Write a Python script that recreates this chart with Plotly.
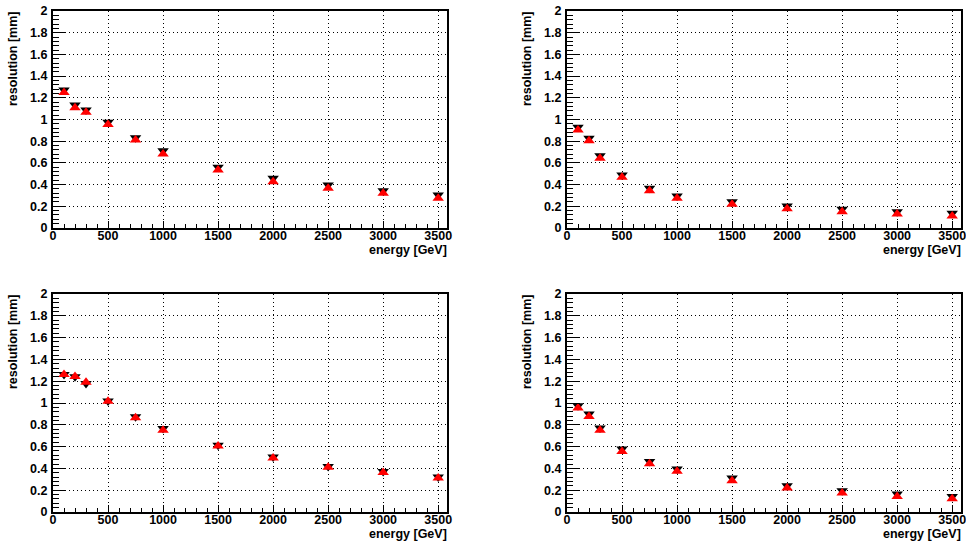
import plotly.graph_objects as go
from plotly.subplots import make_subplots

energy = [100, 200, 300, 500, 750, 1000, 1500, 2000, 2500, 3000, 3500]

# panel values: black triangle-down series, red triangle-up series
tl_black = [1.272, 1.134, 1.088, 0.974, 0.832, 0.713, 0.559, 0.458, 0.396, 0.344, 0.304]
tl_red   = [1.250, 1.109, 1.066, 0.955, 0.811, 0.682, 0.535, 0.427, 0.366, 0.320, 0.274]

tr_black = [0.928, 0.827, 0.667, 0.488, 0.366, 0.295, 0.242, 0.203, 0.172, 0.150, 0.135]
tr_red   = [0.903, 0.805, 0.642, 0.467, 0.344, 0.274, 0.218, 0.178, 0.150, 0.129, 0.110]

bl_black = [1.262, 1.240, 1.178, 1.018, 0.875, 0.765, 0.612, 0.505, 0.418, 0.372, 0.322]
bl_red   = [1.262, 1.244, 1.190, 1.015, 0.865, 0.750, 0.605, 0.495, 0.410, 0.362, 0.312]

br_black = [0.975, 0.899, 0.770, 0.578, 0.464, 0.394, 0.312, 0.241, 0.195, 0.165, 0.143]
br_red   = [0.954, 0.877, 0.749, 0.556, 0.443, 0.373, 0.287, 0.220, 0.174, 0.143, 0.122]

x_title = "energy [GeV]"
y_title = "resolution [mm]"

W, H = 966, 541
FONT = "Liberation Sans, Arial, sans-serif"
FS = 12.5

fig = make_subplots(rows=2, cols=2)

panels = [
    (1, 1, tl_black, tl_red),
    (1, 2, tr_black, tr_red),
    (2, 1, bl_black, bl_red),
    (2, 2, br_black, br_red),
]
for r, c, blk, red in panels:
    fig.add_trace(go.Scatter(x=energy, y=blk, mode="markers",
                             marker=dict(symbol="triangle-down", size=10, color="black",
                                         line=dict(width=0)),
                             showlegend=False), row=r, col=c)
    fig.add_trace(go.Scatter(x=energy, y=red, mode="markers",
                             marker=dict(symbol="triangle-up", size=10, color="red",
                                         line=dict(width=0)),
                             showlegend=False), row=r, col=c)

# pixel frames
xpix = {1: (53, 447), 2: (567, 961)}
ypix = {1: (11, 228), 2: (294, 512)}

axis_font = dict(family=FONT, size=FS, color="black", weight="bold")
for r in (1, 2):
    for c in (1, 2):
        x0, x1 = xpix[c]
        y0, y1 = ypix[r]
        fig.update_xaxes(domain=[x0 / W, x1 / W], range=[0, 3580], dtick=500, tick0=0,
                         automargin=False, ticklabelstandoff=-5, ticklabeloverflow="allow",
                         ticks="inside", ticklen=7, tickcolor="black", tickwidth=1,
                         minor=dict(dtick=100, ticks="inside", ticklen=4, tickcolor="black", showgrid=False),
                         showgrid=True, gridcolor="black", gridwidth=1, griddash="1px,3px",
                         showline=True, linecolor="black", linewidth=2, mirror=True,
                         zeroline=False, tickfont=axis_font, row=r, col=c)
        fig.update_yaxes(domain=[1 - y1 / H, 1 - y0 / H], range=[0, 2], dtick=0.2, tick0=0,
                         automargin=False, ticklabelstandoff=1, ticklabeloverflow="allow",
                         ticks="inside", ticklen=12, tickcolor="black", tickwidth=1,
                         minor=dict(dtick=0.04, ticks="inside", ticklen=6, tickcolor="black", showgrid=False),
                         showgrid=True, gridcolor="black", gridwidth=1, griddash="1px,3px",
                         showline=True, linecolor="black", linewidth=2, mirror=True,
                         zeroline=False, tickfont=axis_font, row=r, col=c)
        fig.add_annotation(text=y_title, textangle=-90, xref="paper", yref="paper",
                           x=(x0 - 40) / W, y=1 - (y0 - 1) / H, xanchor="center", yanchor="top",
                           showarrow=False,
                           font=dict(family=FONT, size=FS, color="black", weight="bold"))
        fig.add_annotation(text=x_title, xref="paper", yref="paper",
                           x=(x1 + 2) / W, y=1 - (y1 + 22) / H, xanchor="right", yanchor="middle",
                           showarrow=False,
                           font=dict(family=FONT, size=FS, color="black", weight="bold"))

fig.update_layout(width=W, height=H, margin=dict(l=0, r=0, t=0, b=0, autoexpand=False),
                  paper_bgcolor="white", plot_bgcolor="white",
                  font=dict(family=FONT, size=FS, color="black", weight="bold"))

fig.write_html("out.html", config={"displayModeBar": False},
               post_script="document.body.style.margin='0';document.body.style.padding='0';")
